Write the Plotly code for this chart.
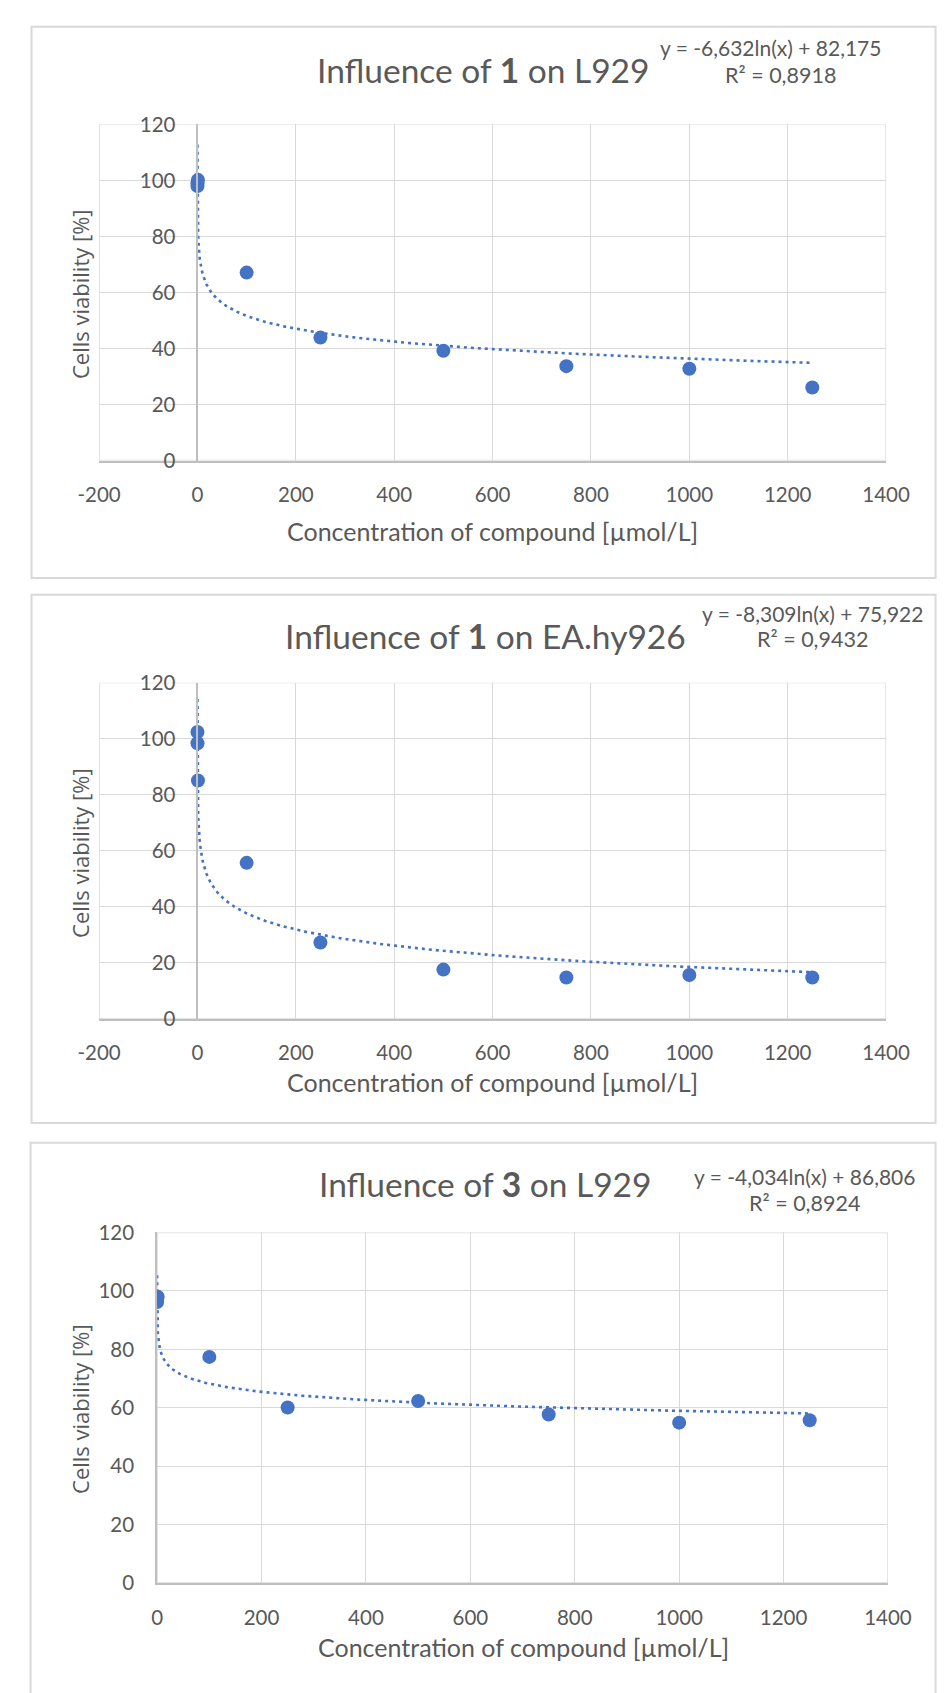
import numpy as np
import plotly.graph_objects as go

W, H = 951, 1693

# Concentrations tested [µmol/L]
conc = [0.01, 0.1, 1, 100, 250, 500, 750, 1000, 1250]

# Cell viability [%] for each experiment
viab_1_l929 = [98.0, 99.0, 100.2, 67.1, 43.9, 39.2, 33.7, 32.8, 26.1]
viab_1_ea = [102.4, 98.4, 85.1, 55.7, 27.3, 17.6, 14.8, 15.7, 14.8]
viab_3_l929 = [96.2, 97.6, 98.0, 77.4, 60.1, 62.3, 57.7, 54.9, 55.7]

# Logarithmic trendline y = a*ln(x) + b and its R²
fit_a = [-6.632, -8.309, -4.034]
fit_b = [82.175, 75.922, 86.806]
fit_r2 = [0.8918, 0.9432, 0.8924]

compound = ["1", "1", "3"]
cell_line = ["L929", "EA.hy926", "L929"]
x_ticks = [[-200, 0, 200, 400, 600, 800, 1000, 1200, 1400],
           [-200, 0, 200, 400, 600, 800, 1000, 1200, 1400],
           [0, 200, 400, 600, 800, 1000, 1200, 1400]]
y_ticks = [0, 20, 40, 60, 80, 100, 120]
series = [viab_1_l929, viab_1_ea, viab_3_l929]

BLUE = "#4472C4"
GRID = "#d9d9d9"
AXIS = "#bfbfbf"
TXT = "#595959"
FONT = "Lato"

# Panel geometry in page pixels
panels = [
    dict(l=81, r=908, t=113, b=454, box=(10, 14, 960, 573),
         title=(484, 58), eq=(787, 35), r2=(797, 63), xt=(494, 525), yt=(61, 285)),
    dict(l=81, r=908, t=679.3, b=1020.4, box=(10, 590, 960, 1126),
         title=(487, 632), eq=(831, 609), r2=(831, 635), xt=(494, 1084), yt=(61, 852)),
    dict(l=142, r=910, t=1237, b=1592.6, box=(9, 1146, 960, 1710),
         title=(487, 1188), eq=(822, 1180), r2=(822, 1207), xt=(527, 1658), yt=(61, 1416)),
]


def px(x):
    return x / W


def py(y):
    return 1 - y / H


fig = go.Figure()
shapes = []
annotations = []
layout = {}


def ann(text, pos, size, family=FONT, angle=0):
    annotations.append(dict(text=text, x=px(pos[0]), y=py(pos[1]), xref="paper",
                            yref="paper", showarrow=False, xanchor="center",
                            yanchor="middle", textangle=angle,
                            font=dict(family=family, size=size, color=TXT)))


for i, p in enumerate(panels):
    n = "" if i == 0 else str(i + 1)
    xa, ya = "x" + n, "y" + n
    xmin, xmax = x_ticks[i][0], x_ticks[i][-1]

    # trendline from the fitted equation
    xs = np.unique(np.concatenate([np.geomspace(conc[0], conc[-1], 300),
                                   np.linspace(conc[0], conc[-1], 300)]))
    ys = fit_a[i] * np.log(xs) + fit_b[i]
    fig.add_trace(go.Scatter(x=xs, y=ys, mode="lines", xaxis=xa, yaxis=ya,
                             line=dict(color=BLUE, width=2.6, dash="3px,4px"),
                             hoverinfo="skip", showlegend=False))
    fig.add_trace(go.Scatter(x=conc, y=series[i], mode="markers", xaxis=xa, yaxis=ya,
                             marker=dict(color=BLUE, size=14, line=dict(width=0)),
                             showlegend=False))

    y_pos = px(p["l"] + (p["r"] - p["l"]) * (0 - xmin) / (xmax - xmin))
    layout["xaxis" + n] = dict(
        domain=[px(p["l"]), px(p["r"])], range=[xmin, xmax], anchor=ya,
        tickvals=x_ticks[i], ticktext=[str(v) for v in x_ticks[i]],
        showgrid=True, gridcolor=GRID, gridwidth=1.4,
        zeroline=False, showline=True, linecolor=AXIS, linewidth=1.8,
        ticks="", ticklabelstandoff=15,
        tickfont=dict(family=FONT, size=20.5, color=TXT), fixedrange=True)
    layout["yaxis" + n] = dict(
        domain=[py(p["b"]), py(p["t"])], range=[0, 120],
        anchor="free" if xmin < 0 else xa, position=y_pos,
        tickvals=y_ticks, showgrid=True, gridcolor=GRID, gridwidth=1.4,
        zeroline=False, showline=True, linecolor=AXIS, linewidth=1.8,
        ticks="", ticklabelstandoff=17,
        tickfont=dict(family=FONT, size=20.5, color=TXT), fixedrange=True)

    # plot-area frame
    shapes.append(dict(type="rect", xref=xa, yref=ya, x0=xmin, x1=xmax, y0=0, y1=120,
                       line=dict(color=GRID, width=1.4), layer="below"))
    # chart border
    bx0, by0, bx1, by1 = p["box"]
    shapes.append(dict(type="rect", xref="paper", yref="paper",
                       x0=px(bx0), x1=px(bx1), y0=py(by1), y1=py(by0),
                       line=dict(color=GRID, width=2)))

    ann(f"Influence of <b>{compound[i]}</b> on {cell_line[i]}", p["title"], 33.5)
    ann(f"y = {fit_a[i]:.3f}ln(x) + {fit_b[i]:.3f}".replace(".", ","), p["eq"], 21)
    ann(f"R² = {fit_r2[i]:.4f}".replace(".", ","), p["r2"], 21.5)
    ann("Concentration of compound [µmol/L]", p["xt"], 25)
    ann("Cells viability [%]", p["yt"], 22, family="Open Sans", angle=-90)

fig.update_layout(width=W, height=H, margin=dict(l=0, r=0, t=0, b=0),
                  paper_bgcolor="white", plot_bgcolor="white",
                  shapes=shapes, annotations=annotations, showlegend=False, **layout)

# keep the figure flush with the page corner
fig.write_html("out.html",
               post_script="document.body.style.margin='0';document.body.style.padding='0';")
